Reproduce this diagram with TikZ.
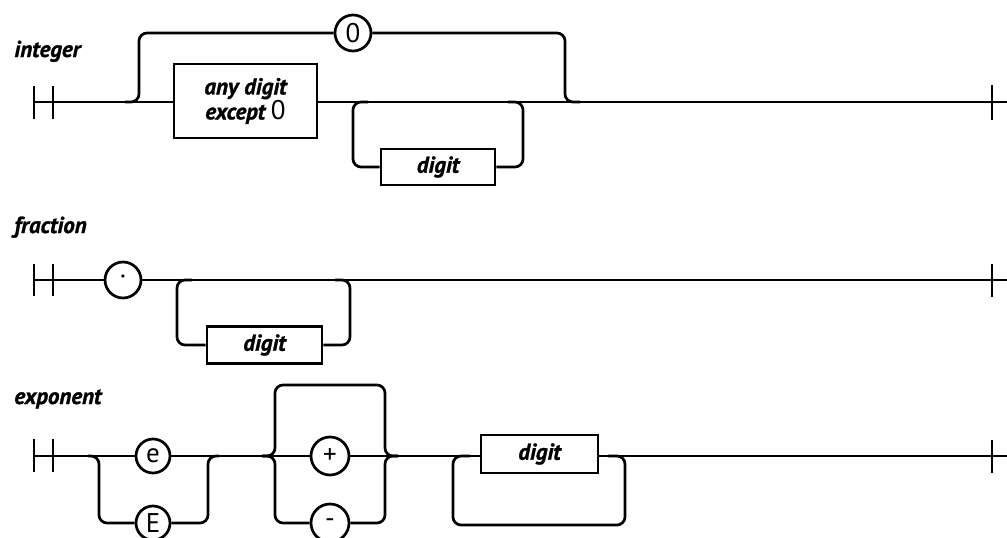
\documentclass[tikz,border=0pt]{standalone}
\usepackage{fontspec}
\setmainfont{PT Sans}[BoldItalicFeatures={FakeBold=1.2}]
\begin{document}
\begin{tikzpicture}[x=1pt,y=-1pt, line width=2.7pt,
  lbl/.style={anchor=base west, font=\fontsize{23}{26}\selectfont\bfseries\itshape, inner sep=0pt},
  term/.style={draw, circle, minimum size=36pt, inner sep=0pt, font=\fontsize{27}{28}\selectfont},
  ntbox/.style={draw, rectangle, inner sep=0pt, font=\fontsize{23}{25}\selectfont\bfseries\itshape, align=center},
  rc/.style={rounded corners=8pt}]
\useasboundingbox (0,0) rectangle (1007,538);

% ---------- integer ----------
\node[lbl] (lint) at (13,57) {integer};
\coordinate (iS) at (34,102);
\coordinate (iE) at (1007,102);
\draw (34,86) -- (34,119);
\draw (53,86) -- (53,119);
\draw (992,85) -- (992,120);
\node[ntbox, minimum width=143pt, minimum height=74pt] (any) at (245.5,101) {any digit\\except {\mdseries\upshape\fontsize{27}{25}\selectfont 0}};
\node[term] (zero) at (353,33) {0};
\node[ntbox, minimum width=114pt, minimum height=36pt] (idig) at (438,167) {digit};
\draw (iS) -- (any.west |- iS);
\draw (any.east |- iS) -- (iE);
\draw[rc] (125,102) -- (139,102) -- (139,33) -- (zero.west);
\draw[rc] (zero.east) -- (565,33) -- (565,102) -- (580,102);
\draw[rc] (idig.west) -- (353,167) -- (353,102) -- (368,102);
\draw[rc] (idig.east) -- (523,167) -- (523,102) -- (508,102);

% ---------- fraction ----------
\node[lbl] (lfrac) at (13,233) {fraction};
\coordinate (fS) at (34,280);
\coordinate (fE) at (1007,280);
\draw (34,264) -- (34,296);
\draw (53,264) -- (53,296);
\draw (992,264) -- (992,297);
\node[term] (dot) at (123,280) {·};
\node[ntbox, minimum width=115pt, minimum height=37pt] (fdig) at (264.5,345) {digit};
\draw (fS) -- (dot);
\draw (dot) -- (fE);
\draw[rc] (fdig.west) -- (177,345) -- (177,280) -- (192,280);
\draw[rc] (fdig.east) -- (350,345) -- (350,280) -- (335,280);

% ---------- exponent ----------
\node[lbl] (lexp) at (13,404) {exponent};
\coordinate (xS) at (34,456);
\coordinate (xE) at (1007,456);
\draw (34,439) -- (34,472);
\draw (53,439) -- (53,472);
\draw (992,440) -- (992,473);
\node[term, minimum size=34pt] (e) at (153,456) {e};
\node[term, minimum size=34pt] (E) at (153,523) {E};
\node[term, minimum size=38pt] (plus) at (330,456) {+};
\node[term, minimum size=38pt] (minus) at (330,523) {-};
\node[ntbox, minimum width=117pt, minimum height=38pt] (xdig) at (539.5,454) {digit};
\draw (xS) -- (e);
\draw (e) -- (plus);
\draw (plus) -- (xdig.west |- plus);
\draw (xdig.east |- plus) -- (xE);
\draw[rc] (88,456) -- (99,456) -- (99,523) -- (E);
\draw[rc] (E) -- (208,523) -- (208,456) -- (219,456);
\draw[rc] (262,456) -- (275,456) -- (275,385) -- (385,385) -- (385,456) -- (398,456);
\draw[rc] (262,456) -- (275,456) -- (275,523) -- (minus);
\draw[rc] (minus) -- (385,523) -- (385,456) -- (398,456);
\draw[rc] (470,456) -- (453,456) -- (453,525) -- (625,525) -- (625,456) -- (608,456);
\end{tikzpicture}
\end{document}
